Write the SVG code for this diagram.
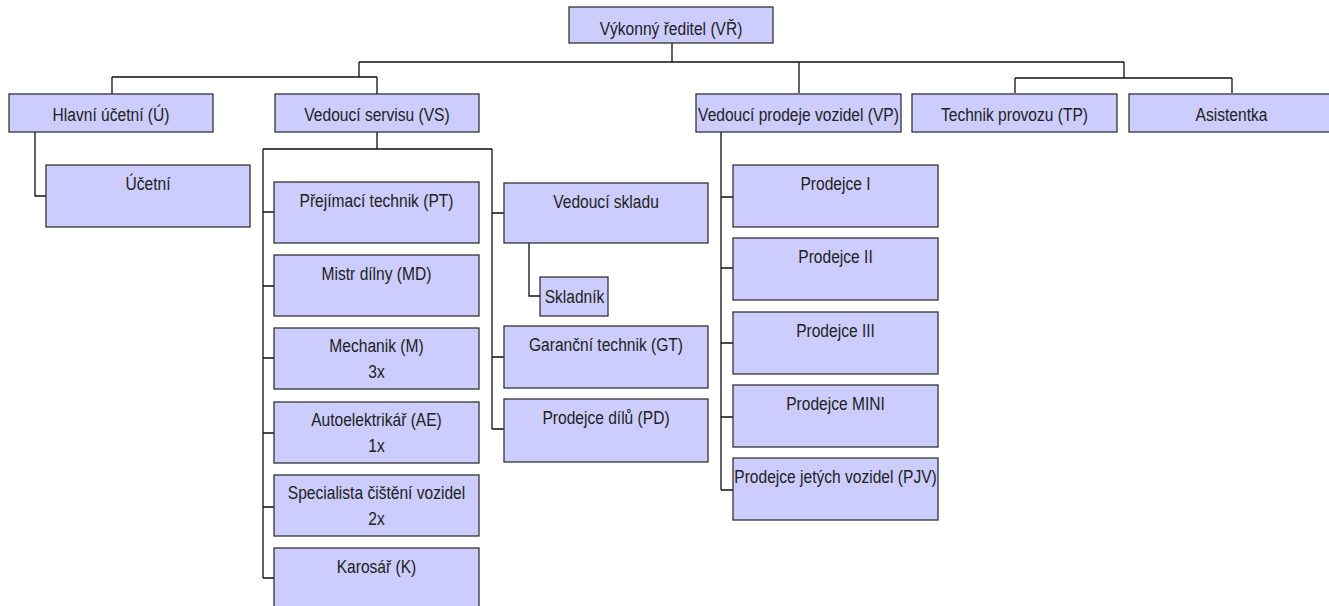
<svg xmlns="http://www.w3.org/2000/svg" width="1329" height="606" viewBox="0 0 1329 606">
  <style>
    .box { fill: #ccccff; stroke: #333333; stroke-width: 1.3; }
    .lbl { font-family: "Liberation Sans", Arial, sans-serif; font-size: 19px; fill: #222222; text-anchor: middle; }
    .wire { fill: none; stroke: #111111; stroke-width: 1.3; }
  </style>
  <rect width="1329" height="606" fill="#ffffff"/>

  <!-- connectors -->
  <g id="connectors" class="wire">
    <path d="M672,43 V62 M359,62 H1124"/>
    <path d="M359,62 V77 M112,77 H377 M112,77 V94 M377,77 V94"/>
    <path d="M799,62 V93"/>
    <path d="M1124,62 V78 M1015,78 H1232 M1015,78 V93 M1232,78 V93"/>
    <path d="M35,132 V196 H46"/>
    <path d="M377,132 V149 M263,149 H492 M263,149 V578"/>
    <path d="M263,212 H274 M263,286 H274 M263,358 H274 M263,433 H274 M263,507 H274 M263,578 H274"/>
    <path d="M492,149 V429 M492,213 H504 M492,357 H504 M492,429 H504"/>
    <path d="M529,243 V296 H540"/>
    <path d="M721,132 V490 M721,197 H733 M721,268 H733 M721,343 H733 M721,417 H733 M721,490 H733"/>
  </g>

  <!-- labels use a narrowed sans: each text is placed by translate and squeezed horizontally -->
  <!-- top level -->
  <g id="n-vr"><rect class="box" x="569" y="7" width="204" height="36"/><text class="lbl" transform="translate(671 35) scale(0.82 1)">Výkonný ředitel (VŘ)</text></g>

  <!-- second level -->
  <g id="n-u"><rect class="box" x="9" y="94" width="204" height="38"/><text class="lbl" transform="translate(111 121) scale(0.82 1)">Hlavní účetní (Ú)</text></g>
  <g id="n-vs"><rect class="box" x="275" y="94" width="204" height="38"/><text class="lbl" transform="translate(377 121) scale(0.82 1)">Vedoucí servisu (VS)</text></g>
  <g id="n-vp"><rect class="box" x="696" y="94" width="205" height="38"/><text class="lbl" transform="translate(798.5 121) scale(0.82 1)">Vedoucí prodeje vozidel (VP)</text></g>
  <g id="n-tp"><rect class="box" x="912" y="94" width="205" height="38"/><text class="lbl" transform="translate(1014.5 121) scale(0.82 1)">Technik provozu (TP)</text></g>
  <g id="n-as"><rect class="box" x="1129" y="94" width="205" height="38"/><text class="lbl" transform="translate(1231.5 121) scale(0.82 1)">Asistentka</text></g>

  <!-- accounting -->
  <g id="n-uc"><rect class="box" x="46" y="165" width="204" height="62"/><text class="lbl" transform="translate(148 190) scale(0.82 1)">Účetní</text></g>

  <!-- service staff -->
  <g id="n-pt"><rect class="box" x="274" y="182" width="205" height="61"/><text class="lbl" transform="translate(376.5 207) scale(0.82 1)">Přejímací technik (PT)</text></g>
  <g id="n-md"><rect class="box" x="274" y="255" width="205" height="61"/><text class="lbl" transform="translate(376.5 280) scale(0.82 1)">Mistr dílny (MD)</text></g>
  <g id="n-m"><rect class="box" x="274" y="328" width="205" height="61"/><text class="lbl" transform="translate(376.5 352) scale(0.82 1)">Mechanik (M)</text><text class="lbl" transform="translate(376.5 378) scale(0.82 1)">3x</text></g>
  <g id="n-ae"><rect class="box" x="274" y="402" width="205" height="61"/><text class="lbl" transform="translate(376.5 426) scale(0.82 1)">Autoelektrikář (AE)</text><text class="lbl" transform="translate(376.5 452) scale(0.82 1)">1x</text></g>
  <g id="n-sc"><rect class="box" x="274" y="475" width="205" height="61"/><text class="lbl" transform="translate(376.5 499) scale(0.82 1)">Specialista čištění vozidel</text><text class="lbl" transform="translate(376.5 525) scale(0.82 1)">2x</text></g>
  <g id="n-k"><rect class="box" x="274" y="548" width="205" height="61"/><text class="lbl" transform="translate(376.5 573) scale(0.82 1)">Karosář (K)</text></g>

  <!-- stores and parts -->
  <g id="n-vsk"><rect class="box" x="504" y="183" width="204" height="60"/><text class="lbl" transform="translate(606 208) scale(0.82 1)">Vedoucí skladu</text></g>
  <g id="n-sk"><rect class="box" x="540" y="277" width="68" height="39"/><text class="lbl" transform="translate(574.5 303) scale(0.82 1)">Skladník</text></g>
  <g id="n-gt"><rect class="box" x="504" y="326" width="204" height="62"/><text class="lbl" transform="translate(606 351) scale(0.82 1)">Garanční technik (GT)</text></g>
  <g id="n-pd"><rect class="box" x="504" y="399" width="204" height="63"/><text class="lbl" transform="translate(606 424) scale(0.82 1)">Prodejce dílů (PD)</text></g>

  <!-- sales staff -->
  <g id="n-p1"><rect class="box" x="733" y="165" width="205" height="62"/><text class="lbl" transform="translate(835.5 190) scale(0.82 1)">Prodejce I</text></g>
  <g id="n-p2"><rect class="box" x="733" y="238" width="205" height="62"/><text class="lbl" transform="translate(835.5 263) scale(0.82 1)">Prodejce II</text></g>
  <g id="n-p3"><rect class="box" x="733" y="312" width="205" height="62"/><text class="lbl" transform="translate(835.5 337) scale(0.82 1)">Prodejce III</text></g>
  <g id="n-pm"><rect class="box" x="733" y="385" width="205" height="62"/><text class="lbl" transform="translate(835.5 410) scale(0.82 1)">Prodejce MINI</text></g>
  <g id="n-pjv"><rect class="box" x="733" y="458" width="205" height="62"/><text class="lbl" transform="translate(835.5 483) scale(0.82 1)">Prodejce jetých vozidel (PJV)</text></g>
</svg>
